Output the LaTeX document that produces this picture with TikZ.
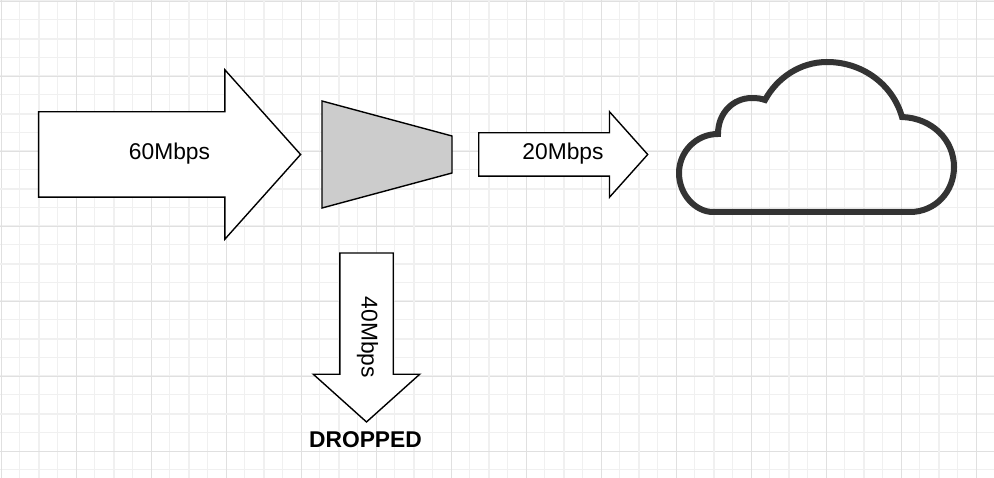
\documentclass[tikz,border=0pt]{standalone}
\usepackage{fontspec}
\setmainfont{Liberation Sans}
\usetikzlibrary{shapes.arrows}
\definecolor{gridmajor}{HTML}{E0E0E0}
\definecolor{gridminor}{HTML}{F0F0F0}
\definecolor{cloudgrey}{HTML}{333333}
\definecolor{shaperfill}{HTML}{CCCCCC}
\tikzset{
  ratearrow/.style={
    single arrow, draw=black, fill=white, line width=1.4pt,
    inner sep=0pt, outer sep=0pt,
    font=\fontsize{22.8}{27}\selectfont
  },
  shaperbox/.style={draw=black, fill=shaperfill, line width=1.4pt},
  droplabel/.style={font=\fontsize{22.8}{27}\selectfont\bfseries, inner sep=0pt},
  cloudline/.style={draw=cloudgrey, line width=6pt, miter limit=10},
}
\begin{document}
\begin{tikzpicture}[x=1pt, y=-1pt]
\useasboundingbox (0,0) rectangle (994,478);
\fill[white] (0,0) rectangle (994,478);
% Grid paper
\foreach \i in {0,...,53} {
  \draw[gridminor, line width=1pt] (1+18.75*\i,0) -- ++(0,478);
  \draw[gridminor, line width=1pt] (0,1+18.75*\i) -- ++(994,0);
}
\foreach \i in {0,...,13} {
  \draw[gridminor, line width=2pt] (39+75*\i,0) -- ++(0,478);
  \draw[gridminor, line width=2pt] (0,39+75*\i) -- ++(994,0);
  \draw[gridmajor, line width=1pt] (1.5+75*\i,0) -- ++(0,478);
  \draw[gridmajor, line width=1pt] (0,1.5+75*\i) -- ++(994,0);
}
% Flows
\node[ratearrow, text height=47pt, text depth=37pt, minimum height=262pt,
      single arrow head extend=42pt, single arrow tip angle=96.4] (rate-in) at (150.5,154.5) {\hspace*{38pt}60Mbps};
\draw[shaperbox] (322,101) -- (452,136) -- (452,173) -- (322,208) -- cycle;
\node[ratearrow, text height=26pt, text depth=16pt, minimum height=169pt,
      single arrow head extend=21pt, single arrow tip angle=96.4] (rate-out) at (553.5,154.5) {\hspace*{19pt}20Mbps};
\node[ratearrow, rotate=-90, text height=30.8pt, text depth=21.2pt, minimum height=169pt,
      single arrow head extend=26.5pt, single arrow tip angle=96.2] (rate-drop) at (366.5,325.5) {\hspace*{24pt}40Mbps};
\node[droplabel] (drop-label) at (365.5,440) {DROPPED};
% Cloud
\draw[cloudline] (713,212) -- (910,212)
  .. controls (935,212) and (954,192) .. (954,167)
  .. controls (954,140) and (932,118) .. (902,117)
  .. controls (893,85) and (863,62) .. (827,62)
  .. controls (800,62) and (777,78) .. (765,100)
  .. controls (761,98.5) and (757,98) .. (752,98)
  .. controls (733,98) and (718,113) .. (718,134)
  .. controls (696,134) and (679,152) .. (679,173)
  .. controls (679,195) and (696,212) .. (713,212) -- cycle;
\end{tikzpicture}
\end{document}
